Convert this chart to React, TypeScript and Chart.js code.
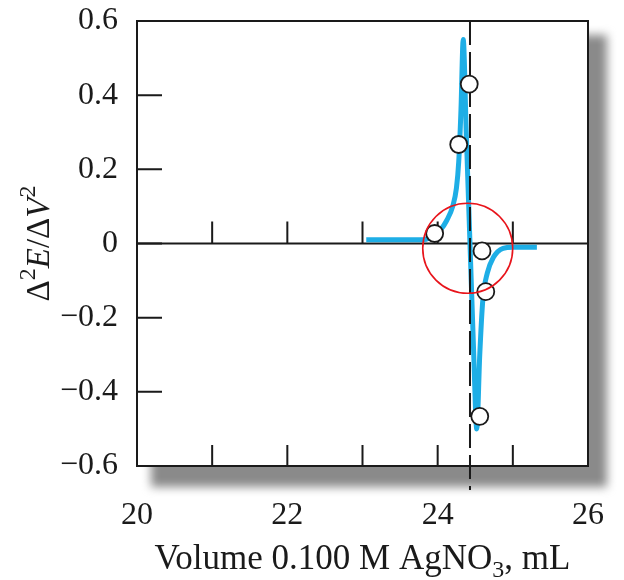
import React, { useEffect, useRef } from "react";
import { Chart, registerables } from "chart.js";

Chart.register(...registerables);

// Fitted curve (second derivative), mL vs Δ²E/ΔV²
const curveX = [23.05, 23.8, 23.9, 23.97, 24.05, 24.12, 24.2, 24.25, 24.28, 24.31, 24.34, 24.38, 24.43, 24.48, 24.52, 24.56, 24.6, 24.66, 24.74, 24.87, 25.0, 25.32];
const curveY = [0.01, 0.01, 0.016, 0.027, 0.04, 0.062, 0.1, 0.15, 0.22, 0.36, 0.55, 0.3, 0.0, -0.3, -0.5, -0.3, -0.154, -0.08, -0.038, -0.013, -0.01, -0.01];

// Measured points
const pointX = [23.96, 24.28, 24.42, 24.59, 24.64, 24.56];
const pointY = [0.027, 0.267, 0.43, -0.02, -0.13, -0.466];

// End point marker line
const endPointX = 24.43;
const endLineY = [0.6, -0.665];

// Highlight circle centre
const highlightX = 24.4;
const highlightY = -0.013;

const xTicksMinor = [21, 22, 23, 24, 25];
const yTicksMinor = [0.4, 0.2, 0, -0.2, -0.4];

const FONT = "'Liberation Serif', 'Times New Roman', serif";

const decorPlugin = {
  id: "decor",
  beforeDraw(chart: any) {
    const { ctx, chartArea: a } = chart;
    ctx.save();
    ctx.filter = "blur(5px)";
    ctx.fillStyle = "#8a8a8a";
    ctx.fillRect(a.left + 14, a.top + 14, a.right - a.left + 5, a.bottom - a.top + 7);
    ctx.filter = "none";
    ctx.fillStyle = "#ffffff";
    ctx.fillRect(a.left, a.top, a.right - a.left, a.bottom - a.top);
    ctx.restore();
  },
  beforeDatasetsDraw(chart: any) {
    const { ctx, chartArea: a, scales } = chart;
    const xs = scales.x;
    const ys = scales.y;
    ctx.save();
    ctx.strokeStyle = "#1a1a1a";
    ctx.lineWidth = 2;
    const y0 = ys.getPixelForValue(0);
    ctx.beginPath();
    ctx.moveTo(a.left, y0);
    ctx.lineTo(a.right, y0);
    ctx.stroke();
    ctx.beginPath();
    for (const v of xTicksMinor) {
      const px = xs.getPixelForValue(v);
      ctx.moveTo(px, a.bottom);
      ctx.lineTo(px, a.bottom - 21);
      ctx.moveTo(px, y0);
      ctx.lineTo(px, y0 - 22);
    }
    for (const v of yTicksMinor) {
      const py = ys.getPixelForValue(v);
      ctx.moveTo(a.left, py);
      ctx.lineTo(a.left + 25, py);
    }
    ctx.stroke();
    ctx.strokeRect(a.left, a.top, a.right - a.left, a.bottom - a.top);
    ctx.restore();
  },
  afterDraw(chart: any) {
    const { ctx, chartArea: a, scales } = chart;
    ctx.save();
    ctx.strokeStyle = "#e8141b";
    ctx.lineWidth = 1.6;
    ctx.beginPath();
    ctx.arc(scales.x.getPixelForValue(highlightX), scales.y.getPixelForValue(highlightY), 45, 0, Math.PI * 2);
    ctx.stroke();

    ctx.fillStyle = "#1a1a1a";
    ctx.textBaseline = "alphabetic";
    const parts: [string, string, number][] = [
      ["Volume 0.100 M AgNO", "35px " + FONT, 0],
      ["3", "24px " + FONT, 8],
      [", mL", "35px " + FONT, 0],
    ];
    let total = 0;
    for (const p of parts) {
      ctx.font = p[1];
      total += ctx.measureText(p[0]).width;
    }
    let x = (a.left + a.right) / 2 - total / 2;
    const base = 569;
    ctx.textAlign = "left";
    for (const p of parts) {
      ctx.font = p[1];
      ctx.fillText(p[0], x, base + p[2]);
      x += ctx.measureText(p[0]).width;
    }
    const yparts: [string, string, number][] = [
      ["Δ", "33px " + FONT, 0],
      ["2", "24px " + FONT, -14],
      ["E", "italic 33px " + FONT, 0],
      ["/Δ", "33px " + FONT, 0],
      ["V", "italic 33px " + FONT, 0],
      ["2", "24px " + FONT, -14],
    ];
    let ytotal = 0;
    for (const p of yparts) {
      ctx.font = p[1];
      ytotal += ctx.measureText(p[0]).width;
    }
    ctx.translate(49, (a.top + a.bottom) / 2);
    ctx.rotate(-Math.PI / 2);
    let t = -ytotal / 2;
    for (const p of yparts) {
      ctx.font = p[1];
      ctx.fillText(p[0], t, p[2]);
      t += ctx.measureText(p[0]).width;
    }
    ctx.restore();
  },
};

export default function App() {
  const ref = useRef<HTMLCanvasElement>(null);
  useEffect(() => {
    if (!ref.current) return;
    Chart.defaults.font.family = FONT;
    const chart = new Chart(ref.current, {
      type: "line",
      data: {
        datasets: [
          {
            label: "points",
            type: "scatter",
            data: pointX.map((x, i) => ({ x, y: pointY[i] })),
            pointRadius: 8.5,
            pointBackgroundColor: "#ffffff",
            pointBorderColor: "#1a1a1a",
            pointBorderWidth: 1.8,
            showLine: false,
            order: 0,
          } as any,
          {
            label: "endpoint",
            data: endLineY.map((y) => ({ x: endPointX, y })),
            borderColor: "#1a1a1a",
            borderWidth: 2,
            borderDash: [24, 7],
            pointRadius: 0,
            clip: false,
            order: 1,
          } as any,
          {
            label: "curve",
            data: curveX.map((x, i) => ({ x, y: curveY[i] })),
            borderColor: "#1eaee6",
            borderWidth: 5,
            pointRadius: 0,
            cubicInterpolationMode: "monotone",
            order: 2,
          } as any,
        ],
      },
      options: {
        animation: false,
        responsive: true,
        maintainAspectRatio: false,
        layout: { padding: { top: 21, right: 36, left: 0, bottom: 0 } },
        plugins: { legend: { display: false }, tooltip: { enabled: false } },
        scales: {
          x: {
            type: "linear",
            min: 20,
            max: 26,
            grid: { display: false, drawTicks: false },
            border: { display: false },
            ticks: {
              stepSize: 2,
              padding: 30,
              color: "#1a1a1a",
              font: { size: 32, family: FONT },
              maxRotation: 0,
            },
            afterFit: (s: any) => {
              s.height = 114;
              s.paddingLeft = 0;
              s.paddingRight = 0;
            },
          },
          y: {
            type: "linear",
            min: -0.6,
            max: 0.6,
            grid: { display: false, drawTicks: false },
            border: { display: false },
            ticks: {
              stepSize: 0.2,
              padding: 19,
              color: "#1a1a1a",
              font: { size: 32, family: FONT },
              callback: (v: any) => {
                const n = Number(v);
                if (Math.abs(n) < 1e-9) return "0";
                return (n < 0 ? "\u2212" : "") + Math.abs(n).toFixed(1);
              },
            },
            afterFit: (s: any) => {
              s.width = 137;
              s.paddingTop = 0;
              s.paddingBottom = 0;
            },
          },
        },
      },
      plugins: [decorPlugin],
    });
    return () => chart.destroy();
  }, []);
  return (
    <div style={{ position: "fixed", left: 0, top: 0, width: 624, height: 580, background: "#fff" }}>
      <canvas ref={ref} />
    </div>
  );
}
